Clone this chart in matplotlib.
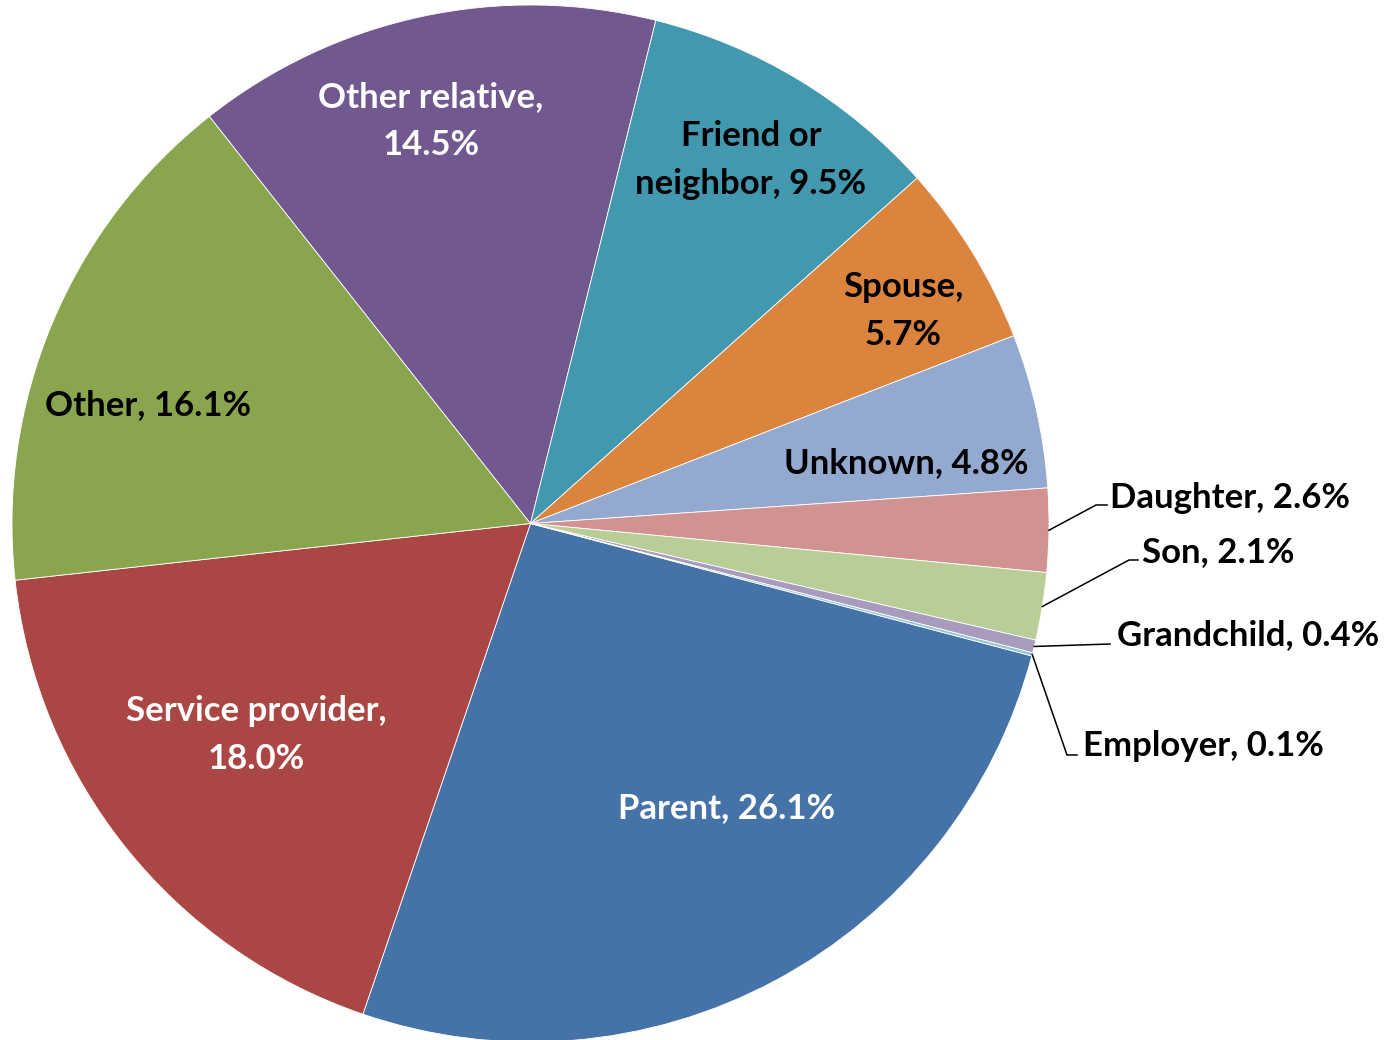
import numpy as np
import matplotlib
matplotlib.use("Agg")
import matplotlib.pyplot as plt

categories = ["Parent", "Service provider", "Other", "Other relative", "Friend or neighbor",
              "Spouse", "Unknown", "Daughter", "Son", "Grandchild", "Employer"]
values = [26.1, 18.0, 16.1, 14.5, 9.5, 5.7, 4.8, 2.6, 2.1, 0.4, 0.1]
colors = ["#4572A7", "#AA4643", "#89A54E", "#71588F", "#4198AF",
          "#DB843D", "#93A9CF", "#D19392", "#B9CD96", "#A99BBD", "#92C5D6"]

W, H = 1393, 1040
fig = plt.figure(figsize=(W / 100, H / 100), dpi=100)
ax = fig.add_axes([0, 0, 1, 1])
ax.set_xlim(0, W)
ax.set_ylim(0, H)
ax.axis("off")

cx, cy, R = 530.5, H - 523.5, 518.5
start = -14.8
wedges, _ = ax.pie(values, colors=colors, startangle=start, counterclock=False,
                   center=(cx, cy), radius=R, normalize=True,
                   wedgeprops=dict(edgecolor="white", linewidth=0.6))
ax.set_xlim(0, W)
ax.set_ylim(0, H)
ax.set_aspect("auto")

FONT = ["Lato", "DejaVu Sans"]
FS = 25
DY = 2  # small vertical nudge (pixels, downward)

def lab(v, name, sep=", "):
    return f"{name}{sep}{v:.1f}%"

# inside labels: (text, x_px, y_px, color)
inside = {
    "Parent": (lab(values[0], "Parent"), 727, 806, "white"),
    "Service provider": ("Service provider,\n" + f"{values[1]:.1f}%", 256, 733, "white"),
    "Other": (lab(values[2], "Other"), 148, 403, "black"),
    "Other relative": ("Other relative,\n" + f"{values[3]:.1f}%", 431, 119, "white"),
    "Friend or neighbor": ("Friend or\nneighbor, " + f"{values[4]:.1f}%", 751, 158, "black"),
    "Spouse": ("Spouse,\n" + f"{values[5]:.1f}%", 903, 309, "black"),
    "Unknown": (lab(values[6], "Unknown"), 906, 461, "black"),
}
for k, (t, x, y, c) in inside.items():
    ax.text(x, H - y - DY, t, ha="center", va="center", color=c, fontsize=FS,
            fontweight="bold", family=FONT, linespacing=1.6)

# outside labels with leader lines: elbow (x,y), horizontal end (x,y), text left x, text y
outside = {
    "Daughter": ((1096, 505), (1107, 505), 1110, 496),
    "Son": ((1129, 560), (1138, 560), 1142, 550),
    "Grandchild": ((1110, 644), (1110, 644), 1117, 633),
    "Employer": ((1067, 755), (1077, 755), 1083, 744),
}
for w, name, v in zip(wedges, categories, values):
    if name not in outside:
        continue
    mid = np.deg2rad((w.theta1 + w.theta2) / 2)
    sx, sy = cx + R * np.cos(mid), cy + R * np.sin(mid)
    (ex, ey), (hx, hy), tx, ty = outside[name]
    ax.plot([sx, ex, hx], [sy, H - ey, H - hy], color="black", lw=1.1,
            solid_joinstyle="miter")
    ax.text(tx, H - ty - DY, lab(v, name), ha="left", va="center", color="black",
            fontsize=FS, fontweight="bold", family=FONT)

fig.savefig("out.png", dpi=100)
